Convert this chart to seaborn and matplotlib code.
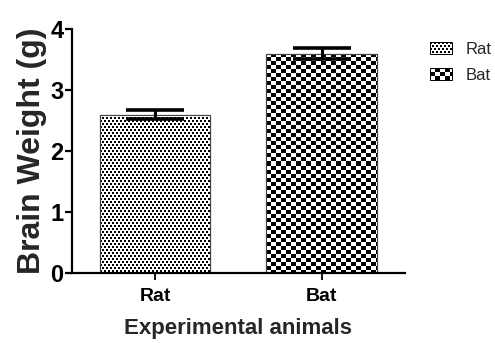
import numpy as np
import matplotlib
matplotlib.use('Agg')
import matplotlib.pyplot as plt
import seaborn as sns
from matplotlib.legend_handler import HandlerBase
from matplotlib.image import BboxImage
from matplotlib.transforms import Bbox, TransformedBbox
from matplotlib.colors import Normalize
from matplotlib.patches import Patch, Rectangle

# data
animals = ['Rat', 'Bat']
brain_weight = [2.6, 3.6]
sem = [0.08, 0.09]


def dots(h, w):
    # fine staggered dot fill (Rat)
    r = np.arange(h)[:, None]
    c = np.arange(w)[None, :]
    on = ((c + 2 * (r // 3)) % 4 < 2) & (r % 3 < 2)
    return on.astype(float)


def checker(h, w):
    # checkerboard fill (Bat)
    r = np.arange(h)[:, None] // 4
    c = np.arange(w)[None, :] // 5
    return ((r + c) % 2).astype(float)


patterns = {'Rat': dots, 'Bat': checker}


class PatternHandler(HandlerBase):
    def __init__(self, fn, dpi):
        super().__init__()
        self.fn = fn
        self.dpi = dpi

    def create_artists(self, legend, orig_handle, xdescent, ydescent,
                       width, height, fontsize, trans):
        bb = TransformedBbox(Bbox.from_bounds(-xdescent, -ydescent, width, height), trans)
        img = BboxImage(bb, cmap='gray_r', norm=Normalize(0, 1), interpolation='nearest')
        px_w = max(int(round(width * self.dpi / 72)), 1)
        px_h = max(int(round(height * self.dpi / 72)), 1)
        img.set_data(self.fn(px_h, px_w))
        box = Rectangle((-xdescent, -ydescent), width, height, fill=False,
                        edgecolor='black', linewidth=0.7, transform=trans)
        return [img, box]


sns.set_style('ticks')
plt.rcParams['font.family'] = ['Liberation Sans', 'DejaVu Sans']

fig = plt.figure(figsize=(4.95, 3.43), dpi=100)
ax = fig.add_axes([0.145, 0.204, 0.673, 0.711])

sns.barplot(x=animals, y=brain_weight, hue=animals, palette=['white', 'white'],
            edgecolor='black', linewidth=0.8, width=0.665, legend=False, ax=ax)

ax.set_xlim(-0.5, 1.5)
ax.set_ylim(0, 4)

# fill each bar with its pattern, clipped to the bar
for patch, name in zip(ax.patches, animals):
    x0, w = patch.get_x(), patch.get_width()
    y0, h = patch.get_y(), patch.get_height()
    p0 = ax.transData.transform((x0, y0))
    p1 = ax.transData.transform((x0 + w, y0 + h))
    pw = int(round(abs(p1[0] - p0[0])))
    ph = int(round(abs(p1[1] - p0[1])))
    im = ax.imshow(patterns[name](ph, pw), cmap='gray_r', vmin=0, vmax=1,
                   extent=(x0, x0 + w, y0, y0 + h), interpolation='nearest',
                   aspect='auto', zorder=patch.get_zorder() + 0.1)
    im.set_clip_path(patch)
    outline = Rectangle((x0, y0), w, h, fill=False, edgecolor='#444444',
                        linewidth=0.8, zorder=patch.get_zorder() + 0.2)
    ax.add_patch(outline)

ax.errorbar(x=range(len(animals)), y=brain_weight, yerr=sem, fmt='none',
            ecolor='black', elinewidth=2.2, capsize=21, capthick=2.6, zorder=5)

ax.set_xlim(-0.5, 1.5)
ax.set_ylim(0, 4)
ax.set_yticks([0, 1, 2, 3, 4])

for side in ['top', 'right']:
    ax.spines[side].set_visible(False)
for side in ['left', 'bottom']:
    ax.spines[side].set_linewidth(1.6)
    ax.spines[side].set_color('black')

ax.tick_params(axis='y', length=5, width=1.6, pad=1, labelsize=17, colors='black')
ax.tick_params(axis='x', length=5, width=1.3, pad=6, labelsize=14, colors='black')
for lab in ax.get_xticklabels() + ax.get_yticklabels():
    lab.set_fontweight('bold')

ax.set_ylabel('Brain Weight (g)', fontsize=23, fontweight='bold', labelpad=2)
ax.set_xlabel('Experimental animals', fontsize=16, fontweight='bold', labelpad=9)

handles = [Patch(label=a) for a in animals]
hmap = {h: PatternHandler(patterns[a], fig.dpi) for h, a in zip(handles, animals)}
ax.legend(handles=handles, handler_map=hmap, loc='upper left',
          bbox_to_anchor=(1.03, 1.01), frameon=False, fontsize=12,
          handlelength=1.35, handleheight=0.7, handletextpad=0.8, labelspacing=0.65)

fig.savefig('out.png', dpi=100)
